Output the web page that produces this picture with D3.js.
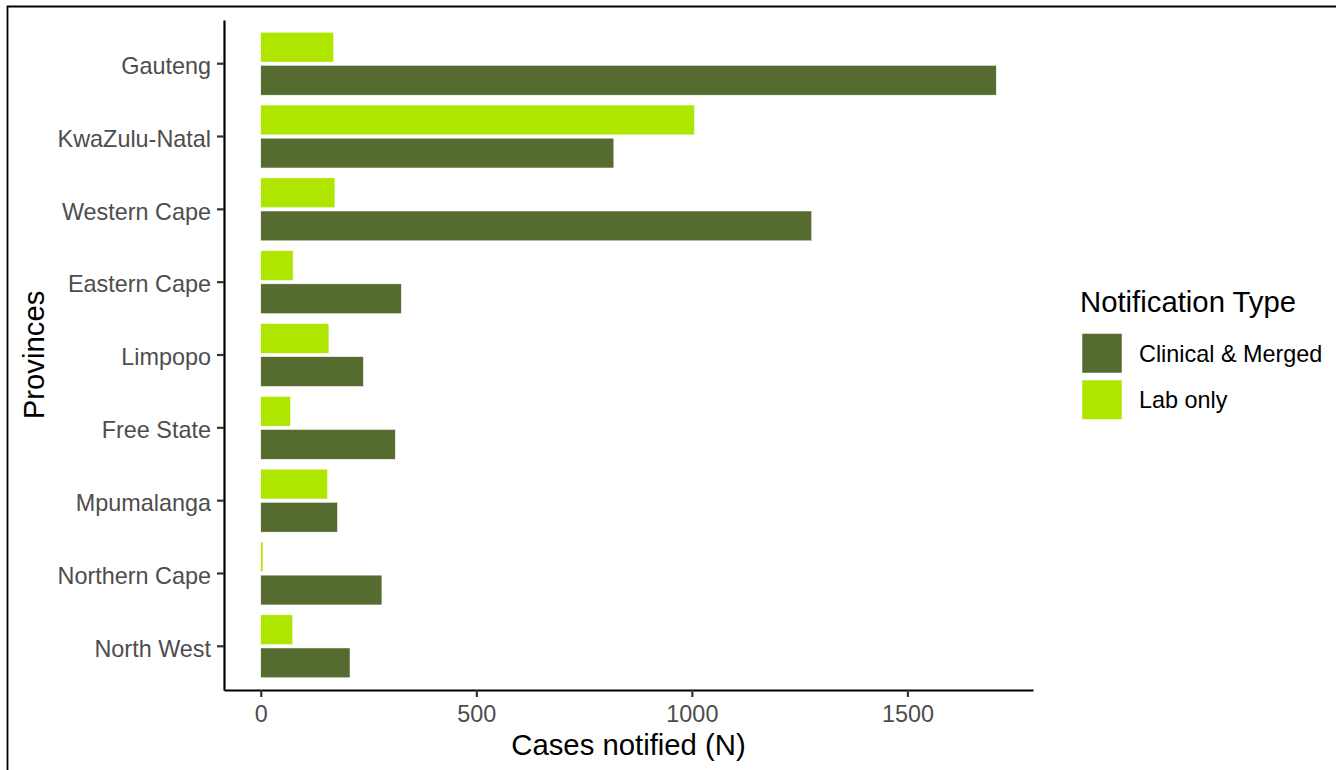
<!DOCTYPE html>
<html>
<head>
<meta charset="utf-8">
<script src="https://cdn.jsdelivr.net/npm/d3@7"></script>
<style>
  html, body { margin: 0; padding: 0; background: #fff; }
  svg { display: block; }
  text { font-family: "Liberation Sans", Arial, Helvetica, sans-serif; }
</style>
</head>
<body>
<svg id="chart" width="1336" height="770"></svg>
<script>
// ---- Data ----
const provinces = ["Gauteng", "KwaZulu-Natal", "Western Cape", "Eastern Cape", "Limpopo",
                   "Free State", "Mpumalanga", "Northern Cape", "North West"];
const notificationTypes = ["Clinical & Merged", "Lab only"];
const clinicalMerged = [1706, 819, 1278, 326, 238, 312, 178, 281, 207];
const labOnly = [169, 1006, 172, 75, 158, 69, 155, 5, 74];
const xTicks = [0, 500, 1000, 1500];
const typeColors = ["#566b30", "#afe600"];

// ---- Layout ----
const svg = d3.select("#chart");
const W = 1336, H = 770;
const panel = { left: 224, right: 1033, top: 20, bottom: 690 };

// frame (top & left edges of the original image border)
svg.append("path")
  .attr("d", `M7.5,${H} V6.5 H${W}`)
  .attr("fill", "none").attr("stroke", "#000").attr("stroke-width", 1.8);

const rows = provinces.map((p, i) => ({
  province: p,
  values: { "Clinical & Merged": clinicalMerged[i], "Lab only": labOnly[i] }
}));

const maxV = d3.max(clinicalMerged.concat(labOnly));
const x = d3.scaleLinear()
  .domain([-0.05 * maxV, 1.05 * maxV])
  .range([panel.left, panel.right]);

const y = d3.scaleBand()
  .domain(provinces)
  .range([panel.top, panel.bottom])
  .paddingInner(0.136)
  .paddingOuter(0.168);

// inner band: Lab only on top, Clinical & Merged below
const yInner = d3.scaleBand()
  .domain(["Lab only", "Clinical & Merged"])
  .range([0, y.bandwidth()])
  .paddingInner(0.1);

const color = d3.scaleOrdinal().domain(notificationTypes).range(typeColors);

// ---- Bars ----
const g = svg.append("g");
rows.forEach(r => {
  const grp = g.append("g").attr("transform", `translate(0,${y(r.province)})`);
  ["Lab only", "Clinical & Merged"].forEach(t => {
    grp.append("rect")
      .attr("x", x(0))
      .attr("y", yInner(t))
      .attr("width", Math.max(0, x(r.values[t]) - x(0)))
      .attr("height", yInner.bandwidth())
      .attr("fill", color(t))
      .attr("stroke", "#ffffff")
      .attr("stroke-width", 0.5);
  });
});

// ---- Axes ----
const xAxis = svg.append("g")
  .attr("transform", `translate(0,${panel.bottom})`)
  .call(d3.axisBottom(x).tickValues(xTicks).tickFormat(d3.format("d"))
        .tickSize(7).tickSizeOuter(0).tickPadding(8));
xAxis.select(".domain").attr("stroke", "#000").attr("stroke-width", 2.2);
xAxis.selectAll(".tick line").attr("stroke", "#333").attr("stroke-width", 2.2);
xAxis.selectAll(".tick text")
  .attr("fill", "#4d4d4d").attr("font-size", "23.4px")
  .attr("font-family", "'Liberation Sans', Arial, sans-serif");

const yAxis = svg.append("g")
  .attr("transform", `translate(${panel.left},0)`)
  .call(d3.axisLeft(y).tickSize(7).tickSizeOuter(0).tickPadding(6));
yAxis.select(".domain").attr("stroke", "#000").attr("stroke-width", 2.2);
yAxis.selectAll(".tick line").attr("stroke", "#333").attr("stroke-width", 2.2);
yAxis.selectAll(".tick text")
  .attr("fill", "#4d4d4d").attr("font-size", "23.4px")
  .attr("dy", "0.44em")
  .attr("font-family", "'Liberation Sans', Arial, sans-serif");

// ---- Axis titles ----
svg.append("text")
  .attr("x", (panel.left + panel.right) / 2)
  .attr("y", 755)
  .attr("text-anchor", "middle")
  .attr("font-size", "29.3px")
  .attr("fill", "#000")
  .text("Cases notified (N)");

svg.append("text")
  .attr("transform", `translate(44,${(panel.top + panel.bottom) / 2}) rotate(-90)`)
  .attr("text-anchor", "middle")
  .attr("font-size", "29.3px")
  .attr("fill", "#000")
  .text("Provinces");

// ---- Legend ----
const legend = svg.append("g").attr("transform", "translate(1080,0)");
legend.append("text")
  .attr("x", 0).attr("y", 312)
  .attr("font-size", "29.3px").attr("fill", "#000")
  .text("Notification Type");
notificationTypes.forEach((t, i) => {
  const top = 333.5 + i * 46.5;
  legend.append("rect")
    .attr("x", 2).attr("y", top)
    .attr("width", 40).attr("height", 39.5)
    .attr("fill", color(t))
    .attr("stroke", "#ffffff").attr("stroke-width", 0.5);
  legend.append("text")
    .attr("x", 59).attr("y", top + 28)
    .attr("font-size", "23.4px").attr("fill", "#000")
    .text(t);
});
</script>
</body>
</html>
